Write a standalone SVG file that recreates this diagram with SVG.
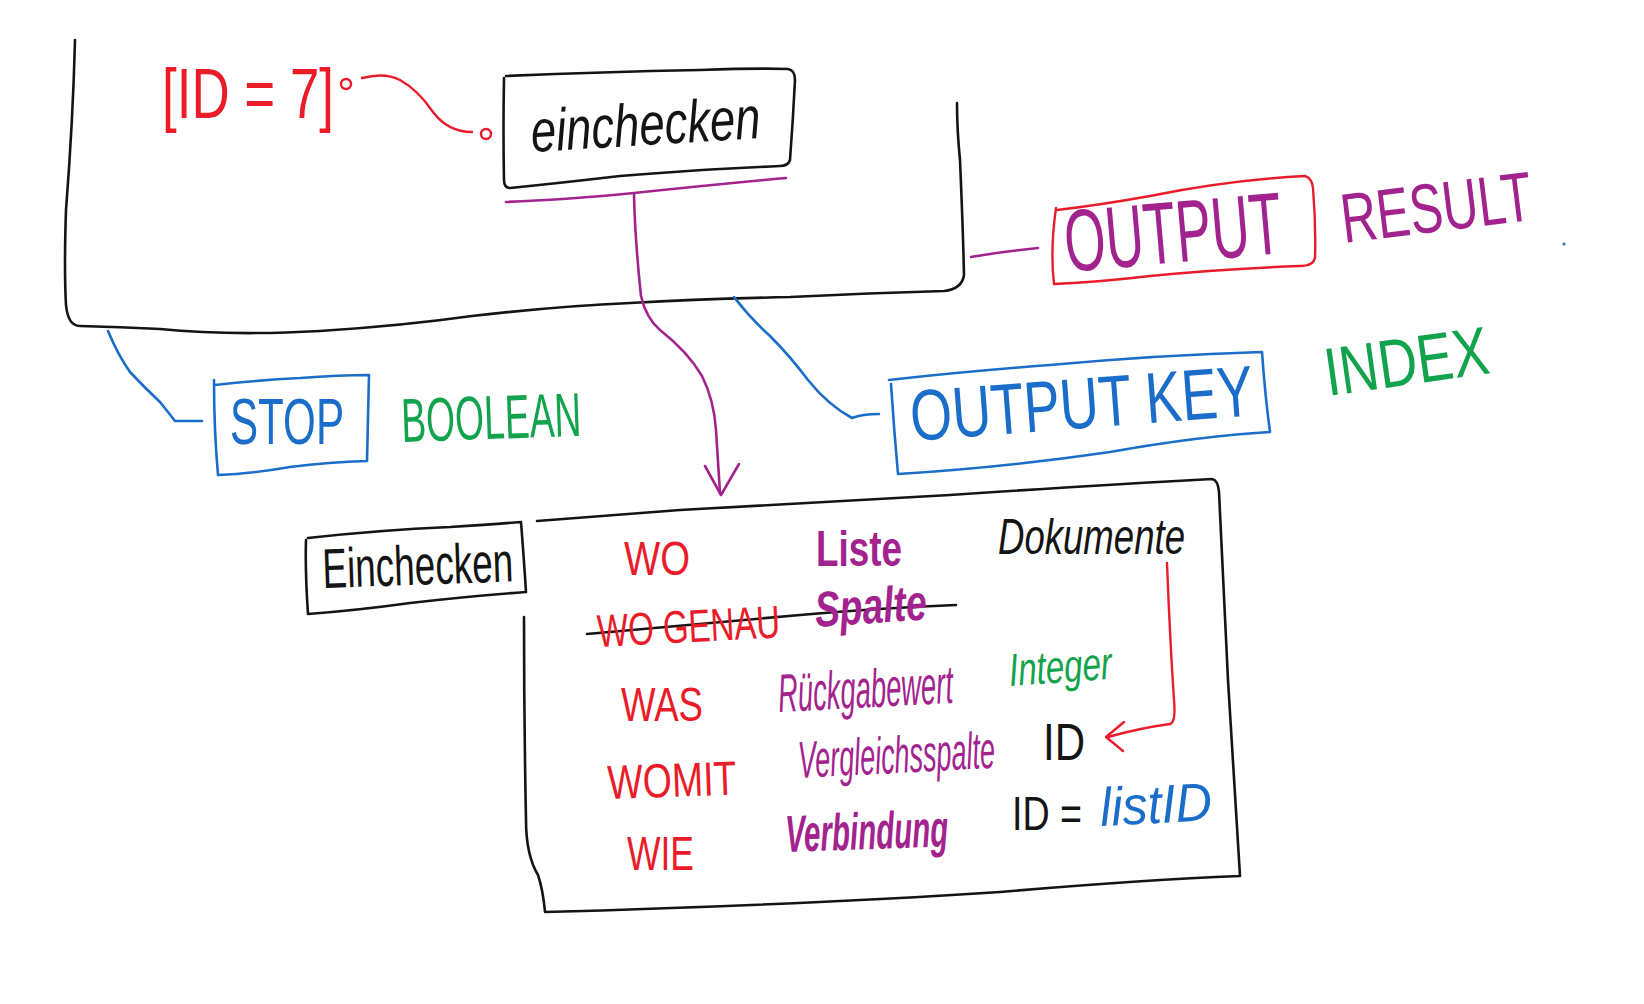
<svg xmlns="http://www.w3.org/2000/svg" width="1644" height="1004" viewBox="0 0 1644 1004">
<style>
.ln{fill:none;stroke-linecap:round;stroke-linejoin:round}
.k{stroke:#141414;stroke-width:2.6}
.r{stroke:#ea1c2a;stroke-width:2.4}
.p{stroke:#a3238e;stroke-width:2.6}
.b{stroke:#1a6dc8;stroke-width:2.6}
.t{font-family:"Liberation Sans",Arial,sans-serif}
.i{font-family:"Liberation Sans",Arial,sans-serif;font-style:italic}
.tr{fill:#ea1c2a}.tp{fill:#a3238e}.tb{fill:#1a6dc8}.tg{fill:#12a34c}.tk{fill:#141414}
</style>
<rect width="1644" height="1004" fill="#fff"/>
<g id="connectors">
<path class="ln k" d="M75,40 Q73,120 66,210 Q64,270 66,305 Q68,326 80,326 Q120,327 160,329 Q230,336 320,331 Q400,326 472,316 Q560,306 630,303 Q700,299 790,297 Q870,293 944,291 Q962,289 964,275 Q963,230 960,160 Q957,130 957,103"/>
<path class="ln r" d="M362,78 Q385,72 400,80 Q418,90 433,112 Q448,132 472,132"/>
<circle class="ln r" cx="346" cy="84" r="5"/>
<circle class="ln r" cx="486" cy="134" r="5"/>
<path class="ln p" d="M506,202 Q560,200 634,193 Q720,184 786,178"/>
<path class="ln p" d="M634,194 Q635,240 641,296 Q646,318 660,330 Q688,352 702,376 Q714,400 716,430 Q718,460 720,493"/>
<path class="ln p" d="M705,466 L721,495 L739,464"/>
<path class="ln p" d="M971,257 Q1000,252 1038,248"/>
<path class="ln b" d="M108,331 Q118,355 130,372 Q145,388 160,402 Q168,412 175,421 L202,421"/>
<path class="ln b" d="M734,297 Q750,318 770,336 Q790,356 808,380 Q828,405 852,418 Q862,414 879,414"/>
<path class="ln k" d="M587,634 Q700,624 800,615 Q880,608 956,605"/>
<path class="ln r" d="M1167,563 Q1170,640 1174,700 Q1176,722 1170,724 Q1140,728 1108,737"/>
<path class="ln r" d="M1124,722 L1106,737 L1123,751"/>
</g>
<g id="id7">
<text class="t tr" x="162" y="118" font-size="70" textLength="172" lengthAdjust="spacingAndGlyphs">[ID = 7]</text>
</g>
<g id="einchecken-top">
<path class="ln k" d="M506,76 Q600,72 700,70 Q760,68 788,69 Q795,70 795,80 Q793,120 790,160 Q788,166 780,166 Q690,170 620,176 Q560,183 510,188 Q504,188 504,180 Q503,130 504,78"/>
<text class="i tk" x="532" y="152" font-size="60" textLength="230" lengthAdjust="spacingAndGlyphs" transform="rotate(-3.5 532 152)">einchecken</text>
</g>
<g id="output">
<path class="ln r" d="M1057,210 Q1100,205 1150,196 Q1230,180 1305,176 Q1312,178 1313,188 Q1316,225 1315,258 Q1313,266 1300,266 Q1220,269 1150,276 Q1100,282 1054,284 Q1050,250 1056,208"/>
<text class="t tp" x="1067" y="272" font-size="88" textLength="218" lengthAdjust="spacingAndGlyphs" transform="rotate(-5 1067 272)">OUTPUT</text>
</g>
<g id="result">
<text class="t tp" x="1344" y="243" font-size="70" textLength="192" lengthAdjust="spacingAndGlyphs" transform="rotate(-7 1344 243)">RESULT</text>
<circle cx="1564" cy="244" r="1.5" fill="#1a6dc8"/>
</g>
<g id="stop">
<path class="ln b" d="M215,385 Q260,380 300,378 Q340,375 369,375 Q368,420 367,461 Q330,462 290,467 Q250,474 218,475 Q214,430 214,380"/>
<text class="t tb" x="230" y="444" font-size="64" textLength="114" lengthAdjust="spacingAndGlyphs">STOP</text>
</g>
<g id="boolean">
<text class="t tg" x="402" y="442" font-size="62" textLength="180" lengthAdjust="spacingAndGlyphs" transform="rotate(-2 402 442)">BOOLEAN</text>
</g>
<g id="outputkey">
<path class="ln b" d="M889,380 Q960,372 1050,365 Q1160,355 1262,352 Q1265,395 1270,432 Q1200,436 1110,452 Q1000,468 898,474 Q894,430 891,384"/>
<text class="t tb" x="912" y="441" font-size="72" textLength="344" lengthAdjust="spacingAndGlyphs" transform="rotate(-4.3 912 441)">OUTPUT KEY</text>
</g>
<g id="index">
<text class="t tg" x="1328" y="396" font-size="68" textLength="165" lengthAdjust="spacingAndGlyphs" transform="rotate(-8 1328 396)">INDEX</text>
</g>
<g id="einchecken-box">
<path class="ln k" d="M308,538 Q380,530 450,527 Q495,524 521,522 Q524,560 526,592 Q470,596 410,603 Q360,610 308,614 Q305,570 306,540"/>
<text class="t tk" x="323" y="588" font-size="56" textLength="191" lengthAdjust="spacingAndGlyphs" transform="rotate(-2 323 588)">Einchecken</text>
</g>
<g id="table">
<path class="ln k" d="M537,521 Q600,516 680,510 Q800,503 950,495 Q1100,485 1212,479 Q1218,480 1219,492 Q1222,560 1228,680 Q1234,780 1240,876 Q1140,880 1000,892 Q800,905 545,912 Q543,890 538,875 Q526,855 526,820 Q524,720 524,617"/>
<text class="t tr" x="624" y="575" font-size="48" textLength="66" lengthAdjust="spacingAndGlyphs">WO</text>
<text class="t tp" x="816" y="566" font-size="50" font-weight="bold" textLength="86" lengthAdjust="spacingAndGlyphs">Liste</text>
<text class="i tk" x="998" y="554" font-size="50" textLength="187" lengthAdjust="spacingAndGlyphs">Dokumente</text>
<text class="t tr" x="598" y="647" font-size="46" textLength="183" lengthAdjust="spacingAndGlyphs" transform="rotate(-3 598 647)">WO GENAU</text>
<text class="i tp" x="816" y="627" font-size="50" font-weight="bold" textLength="112" lengthAdjust="spacingAndGlyphs" transform="rotate(-4 816 627)">Spalte</text>
<text class="t tr" x="621" y="721" font-size="48" textLength="82" lengthAdjust="spacingAndGlyphs">WAS</text>
<text class="i tp" x="779" y="712" font-size="54" textLength="175" lengthAdjust="spacingAndGlyphs" transform="rotate(-3 779 712)">Rückgabewert</text>
<text class="i tg" x="1010" y="686" font-size="46" textLength="103" lengthAdjust="spacingAndGlyphs" transform="rotate(-4 1010 686)">Integer</text>
<text class="t tk" x="1043" y="760" font-size="52" textLength="42" lengthAdjust="spacingAndGlyphs">ID</text>
<text class="t tr" x="608" y="799" font-size="48" textLength="129" lengthAdjust="spacingAndGlyphs" transform="rotate(-2 608 799)">WOMIT</text>
<text class="i tp" x="799" y="778" font-size="52" textLength="197" lengthAdjust="spacingAndGlyphs" transform="rotate(-3 799 778)">Vergleichsspalte</text>
<text class="t tk" x="1012" y="830" font-size="48" textLength="70" lengthAdjust="spacingAndGlyphs">ID =</text>
<text class="i tb" x="1101" y="826" font-size="54" textLength="112" lengthAdjust="spacingAndGlyphs" transform="rotate(-3 1101 826)">listID</text>
<text class="t tr" x="627" y="870" font-size="48" textLength="67" lengthAdjust="spacingAndGlyphs">WIE</text>
<text class="i tp" x="786" y="852" font-size="52" font-weight="bold" textLength="163" lengthAdjust="spacingAndGlyphs" transform="rotate(-2 786 852)">Verbindung</text>
</g>
</svg>
